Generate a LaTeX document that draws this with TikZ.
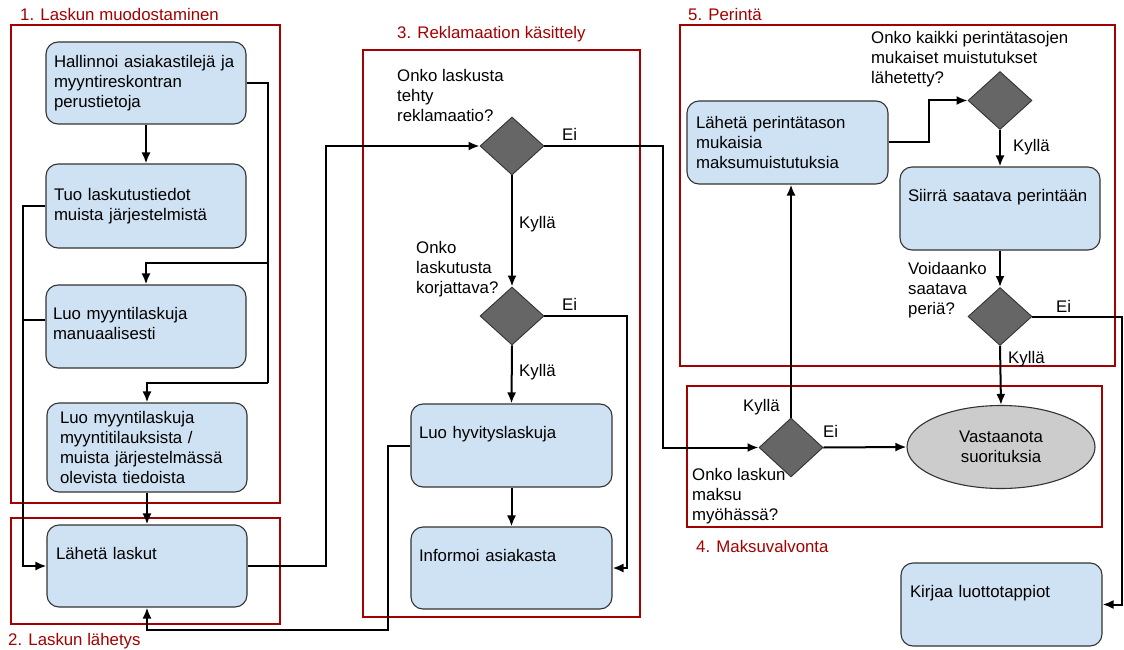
\documentclass[tikz,border=0pt]{standalone}
\usepackage{fontspec}
\setmainfont{Liberation Sans}
\usetikzlibrary{shapes.geometric,arrows.meta}
\definecolor{boxblue}{HTML}{CFE2F3}
\definecolor{boxline}{HTML}{333333}
\definecolor{decision}{HTML}{666666}
\definecolor{endgray}{HTML}{CCCCCC}
\definecolor{framered}{HTML}{A30000}
\tikzset{
  every node/.style={font=\fontsize{16.8}{20}\selectfont},
  task/.style={draw=boxline, line width=1.1pt, fill=boxblue, rounded corners=12pt,
    inner sep=0pt, align=left},
  choice/.style={diamond, draw=boxline, line width=0.9pt, fill=decision,
    inner sep=0pt, minimum width=64pt, minimum height=58pt},
  finish/.style={ellipse, draw=boxline, line width=1.1pt, fill=endgray,
    inner sep=0pt, minimum width=188pt, minimum height=83pt, align=center},
  frame/.style={draw=framered, line width=2pt},
  title/.style={text=framered, anchor=base west, inner sep=0pt},
  question/.style={anchor=north west, inner sep=0pt, align=left},
  answer/.style={anchor=base west, inner sep=0pt},
  link/.style={draw=black, line width=2pt},
  arr/.style={link, -{Latex[length=11pt,width=9pt]}}
}
\begin{document}
\begin{tikzpicture}[x=1pt,y=-1pt]
\useasboundingbox (0,0) rectangle (1124,650);

% process areas
\draw[frame] (11,25) rectangle (280,503);
\draw[frame] (11,518) rectangle (280,624);
\draw[frame] (363,50) rectangle (640,617);
\draw[frame] (687,386) rectangle (1102,527);
\draw[frame] (680,25) rectangle (1115,366);

\node[title] (t1) at (20,21) {1. Laskun muodostaminen};
\node[title] (t2) at (8,645) {2. Laskun lähetys};
\node[title] (t3) at (397,39) {3. Reklamaation käsittely};
\node[title] (t4) at (696,552) {4. Maksuvalvonta};
\node[title] (t5) at (688,21) {5. Perintä};

% questions beside the decisions
\node[question] (tq1) at (397,69) {Onko laskusta\\tehty\\reklamaatio?};
\node[question] (tq2) at (416,241) {Onko\\laskutusta\\korjattava?};
\node[question] (tq3) at (692,468) {Onko laskun\\maksu\\myöhässä?};
\node[question] (tq4) at (871,31) {Onko kaikki perintätasojen\\mukaiset muistutukset\\lähetetty?};
\node[question] (tq5) at (908,262) {Voidaanko\\saatava\\periä?};

% tasks
\node[task, minimum width=200pt, minimum height=82pt, text width=184pt] (A) at (146,83)
  {Hallinnoi asiakastilejä ja\\myyntireskontran\\perustietoja};
\node[task, minimum width=200pt, minimum height=84pt, text width=184pt] (B) at (146,206)
  {Tuo laskutustiedot\\muista järjestelmistä};
\node[task, minimum width=200pt, minimum height=83pt, text width=186pt] (C) at (146,326.5)
  {Luo myyntilaskuja\\manuaalisesti\strut};
\node[task, minimum width=200pt, minimum height=89pt, text width=174pt] (D) at (147,447.5)
  {Luo myyntilaskuja\\myyntitilauksista /\\muista järjestelmässä\\olevista tiedoista};
\node[task, minimum width=200pt, minimum height=82pt, text width=182pt] (E) at (147,566)
  {Lähetä laskut\\\strut};
\node[task, minimum width=201pt, minimum height=83pt, text width=185pt] (H) at (511.5,445.5)
  {Luo hyvityslaskuja\\\strut};
\node[task, minimum width=201pt, minimum height=82pt, text width=185pt] (I) at (511.5,568)
  {Informoi asiakasta\\\strut};
\node[task, minimum width=201pt, minimum height=83pt, text width=183pt] (P) at (787.5,142.5)
  {Lähetä perintätason\\mukaisia\\maksumuistutuksia};
\node[task, minimum width=200pt, minimum height=83pt, text width=184pt] (S) at (1000,208.5)
  {Siirrä saatava perintään\\\strut};
\node[task, minimum width=201pt, minimum height=83pt, text width=183pt] (K) at (1001.5,604.5)
  {Kirjaa luottotappiot\\\strut};
\node[finish] (V) at (1001,447) {Vastaanota\\suorituksia};

% decisions
\node[choice] (Q1) at (512,146) {};
\node[choice] (Q2) at (512,316) {};
\node[choice, minimum height=59pt] (Q3) at (791,447.5) {};
\node[choice] (Q4) at (1000,100.5) {};
\node[choice] (Q5) at (1000,316.5) {};

% junctions of the routed connectors
\coordinate (jA) at (268,83);
\coordinate (jC) at (268,263);
\coordinate (jD) at (268,383);
\coordinate (jB) at (23,206);
\coordinate (jCw) at (23,320);
\coordinate (jE) at (326,566);
\coordinate (jQ1) at (663,146);
\coordinate (jQ2) at (627,316);
\coordinate (jH) at (388,630);
\coordinate (jP) at (929,142.5);
\coordinate (jQ5) at (1122,316.5);

% 1. invoice creation
\draw[arr] (A.south) -- (B.north);
\draw[link] (A.east) -- (jA) -- (jD);
\draw[arr] (jC) -| (C.north);
\draw[arr] (jD) -| (D.north);
\draw[arr] (B.west) -- (jB) |- (E.west);
\draw[link] (C.west |- jCw) -- (jCw);
\draw[arr] (D.south) -- (E.north);

% 2./3. sending and complaints
\draw[arr] (E.east) -- (jE) |- (Q1.west);
\draw[arr] (Q1.south) -- (Q2.north);
\draw[arr] (Q2.south) -- (H.north);
\draw[arr] (H.south) -- (I.north);
\draw[arr] (Q2.east) -- (jQ2) |- (I.east);
\draw[arr] (H.west) -| (jH) -| (E.south);
\draw[arr] (Q1.east) -- (jQ1) |- (Q3.west);

% 4./5. payment follow-up and collection
\draw[arr] (Q3.north) -- (Q3.north |- P.south);
\draw[arr] (Q3.east) -- (V.west);
\draw[arr] (P.east) -- (jP) |- (Q4.west);
\draw[arr] (Q4.south) -- (S.north);
\draw[arr] (S.south) -- (Q5.north);
\draw[arr] (Q5.south) -- (V.north);
\draw[arr] (Q5.east) -- (jQ5) |- (K.east);

% answers on the branches
\node[answer] (n1) at (562,141) {Ei};
\node[answer] (n2) at (562,310) {Ei};
\node[answer] (n3) at (823,437) {Ei};
\node[answer] (n5) at (1056,312) {Ei};
\node[answer] (y1) at (519,228) {Kyllä};
\node[answer] (y2) at (519,376) {Kyllä};
\node[answer] (y3) at (743,411) {Kyllä};
\node[answer] (y4) at (1013,152) {Kyllä};
\node[answer] (y5) at (1008,363) {Kyllä};
\end{tikzpicture}
\end{document}
